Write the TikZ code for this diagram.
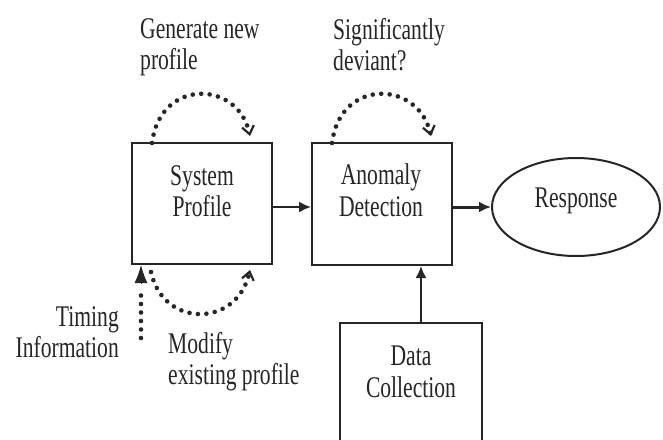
\documentclass[tikz,border=0pt]{standalone}
\usepackage{fontspec}
\setmainfont[FakeStretch=0.72]{Liberation Serif}
\usetikzlibrary{arrows.meta,shapes.geometric,calc}

\begin{document}
\begin{tikzpicture}[x=1pt,y=-1pt,
  ink/.style={draw=black!85},
  box/.style={ink, line width=2pt, rectangle, minimum width=140pt, minimum height=121pt, inner sep=0pt},
  txt/.style={text=black!85, font=\fontsize{30}{31.5}\selectfont, align=center, inner sep=0pt},
  note/.style={text=black!85, font=\fontsize{30}{31}\selectfont, inner sep=0pt},
  flow/.style={draw=black!85, line width=2pt, -{Latex[length=12pt,width=11pt]}},
  dotline/.style={draw=black!85, line width=4.6pt, line cap=round, dash pattern=on 0pt off 8.5pt},
  loop/.style={dotline, -{Straight Barb[length=8pt,width=12pt,line width=2.2pt]}},
]
\useasboundingbox (0,0) rectangle (663,439);
\clip (0,0) rectangle (663,439);

% main blocks
\node[box] (sys) at (202,203.5) {};
\node[box, minimum height=122pt] (ano) at (382,204) {};
\node[ink, line width=2pt, ellipse, minimum width=168pt, minimum height=98pt, inner sep=0pt] (resp) at (576,207) {};
\node[box, minimum width=142pt, minimum height=200pt, anchor=north] (data) at (411,322) {};

% block captions
\node[txt] (systxt) at (202,191) {System\\Profile};
\node[txt] (anotxt) at (381,190) {Anomaly\\Detection};
\node[txt] (resptxt) at (576,201) {Response};
\node[txt] (datatxt) at (411,372) {Data\\Collection};

% side notes
\node[note, align=left, anchor=north west] (gen) at (140,18) {Generate new\\profile};
\node[note, align=left, anchor=north west] (sig) at (333,18) {Significantly\\deviant?};
\node[note, align=right, anchor=north east] (tim) at (119,306) {Timing\\Information};
\node[note, align=left, anchor=north west] (mod) at (168,332) {Modify\\existing profile};

% solid flow arrows
\draw[flow] (sys.east |- 0,207) -- (ano.west |- 0,207);
\draw[flow, line width=3pt] (ano.east |- 0,207) -- (resp.west);
\coordinate (dtop) at ([xshift=10pt]data.north);
\draw[flow] (dtop) -- (dtop |- ano.south);

% dotted feedback loops
\coordinate (s1) at (152,143);
\coordinate (s2) at (250,136);
\draw[loop] (s1) .. controls (160,78) and (238,80) .. (s2);
\coordinate (a1) at (332,143);
\coordinate (a2) at (431,136);
\draw[loop] (a1) .. controls (340,78) and (418,80) .. (a2);
\coordinate (b1) at (151,272);
\coordinate (b2) at (250,270);
\draw[loop] (b1) .. controls (163,328) and (237,328) .. (b2);

% timing input
\coordinate (t0) at (141,338);
\draw[dotline] (t0) -- (141,288);
\draw[draw=black!85, line width=1pt, -{Latex[length=18pt,width=13pt]}] (141,284) -- (t0 |- sys.south);
\end{tikzpicture}
\end{document}
